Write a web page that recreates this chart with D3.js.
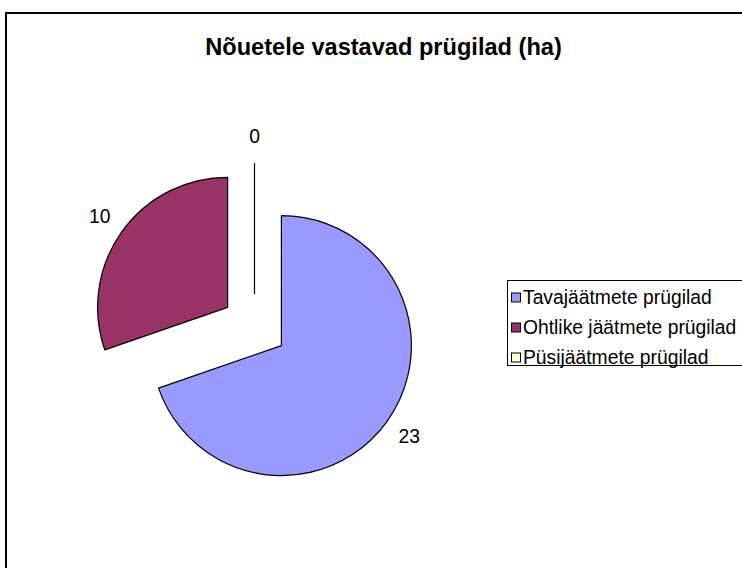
<!DOCTYPE html>
<html>
<head>
<meta charset="utf-8">
<script src="https://cdn.jsdelivr.net/npm/d3@7"></script>
<style>
  html, body { margin: 0; padding: 0; background: #fff; }
  text { font-family: Arial, "Liberation Sans", sans-serif; }
</style>
</head>
<body>
<svg id="chart" width="742" height="568"></svg>
<script>
// chart data
const title = "Nõuetele vastavad prügilad (ha)";
const categories = ["Tavajäätmete prügilad", "Ohtlike jäätmete prügilad", "Püsijäätmete prügilad"];
const values = [23, 10, 0];
const colors = ["#9999FF", "#993366", "#FFFFCC"];

const svg = d3.select('#chart');
const rad = 130;
const explode = 33;
const cx = 254.5, cy = 326.5;

// outer frame (runs off the right and bottom edge)
svg.append('rect')
  .attr('x', 6).attr('y', 13)
  .attr('width', 800).attr('height', 600)
  .attr('fill', 'none')
  .attr('stroke', '#000')
  .attr('stroke-width', 2);

svg.append('text')
  .attr('x', 383.5).attr('y', 55)
  .attr('text-anchor', 'middle')
  .attr('font-size', 23.6)
  .attr('font-weight', 'bold')
  .text(title);

const pie = d3.pie().sort(null).value(d => d);
const slices = pie(values);

const arc = d3.arc().innerRadius(0).outerRadius(rad);
const labelArc = d3.arc().innerRadius(157).outerRadius(157);

const offset = d => {
  const mid = (d.startAngle + d.endAngle) / 2;
  return [Math.sin(mid) * explode, -Math.cos(mid) * explode];
};

const graph = svg.append('g')
  .attr('transform', 'translate(' + cx + ',' + cy + ')');

const g = graph.selectAll('g.slice')
  .data(slices)
  .enter()
  .append('g')
  .attr('class', 'slice')
  .attr('transform', d => 'translate(' + offset(d) + ')');

g.append('path')
  .attr('d', arc)
  .style('fill', (d, i) => colors[i])
  .style('stroke', '#000')
  .style('stroke-width', 1.2)
  .style('stroke-linejoin', 'round');

g.append('text')
  .attr('transform', d => 'translate(' + labelArc.centroid(d) + ')')
  .attr('text-anchor', 'middle')
  .attr('dy', '0.35em')
  .attr('font-size', 19.3)
  .text(d => d.value);

// legend
const legend = svg.append('g');
legend.append('rect')
  .attr('x', 507.5).attr('y', 280.5)
  .attr('width', 260).attr('height', 85)
  .attr('fill', '#fff')
  .attr('stroke', '#000')
  .attr('stroke-width', 1);

const rowY = d3.scalePoint().domain(categories).range([297, 357]);

const item = legend.selectAll('g.item')
  .data(categories)
  .enter()
  .append('g')
  .attr('class', 'item')
  .attr('transform', d => 'translate(511,' + rowY(d) + ')');

item.append('rect')
  .attr('x', 0.5).attr('y', -4)
  .attr('width', 9).attr('height', 9)
  .attr('fill', (d, i) => colors[i])
  .attr('stroke', '#000')
  .attr('stroke-width', 1);

item.append('text')
  .attr('x', 12)
  .attr('dy', '0.35em')
  .attr('font-size', 19.3)
  .text(d => d);
</script>
</body>
</html>
